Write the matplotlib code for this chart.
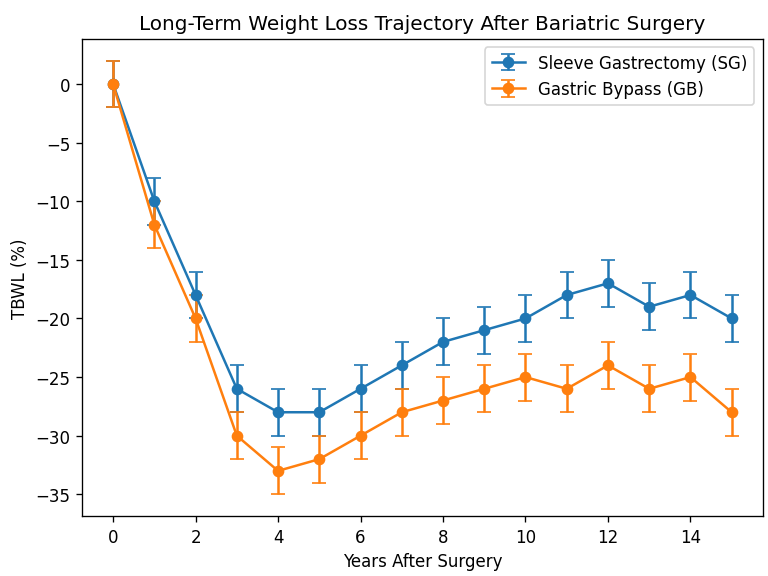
import matplotlib.pyplot as plt

years = list(range(16))
sg_tbwl = [0, -10, -18, -26, -28, -28, -26, -24, -22, -21, -20, -18, -17, -19, -18, -20]
gb_tbwl = [0, -12, -20, -30, -33, -32, -30, -28, -27, -26, -25, -26, -24, -26, -25, -28]
sg_err = [2] * 16
gb_err = [2] * 16

fig, ax = plt.subplots(figsize=(6.4, 4.808), dpi=120)
fig.subplots_adjust(left=0.107, right=0.993, top=0.931, bottom=0.104)

ax.errorbar(years, sg_tbwl, yerr=sg_err, marker="o", capsize=4,
            label="Sleeve Gastrectomy (SG)")
ax.errorbar(years, gb_tbwl, yerr=gb_err, marker="o", capsize=4,
            label="Gastric Bypass (GB)")

ax.set_title("Long-Term Weight Loss Trajectory After Bariatric Surgery")
ax.set_xlabel("Years After Surgery")
ax.set_ylabel("TBWL (%)")
ax.legend(loc="upper right")

fig.savefig("out.png", dpi=120)
